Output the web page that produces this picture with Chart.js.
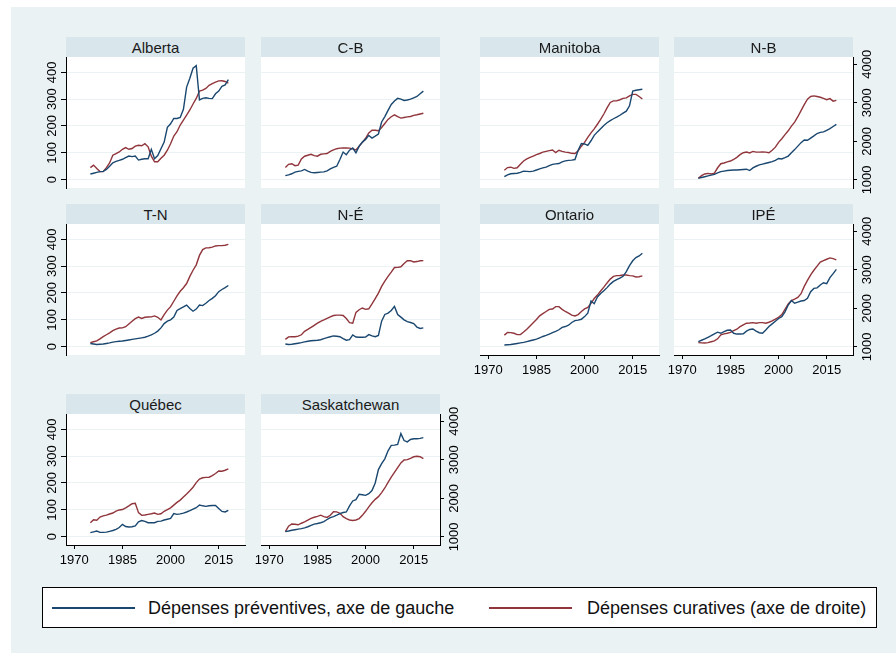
<!DOCTYPE html>
<html>
<head>
<meta charset="utf-8">
<script src="https://cdn.jsdelivr.net/npm/chart.js@4.4.1/dist/chart.umd.min.js"></script>
<style>
html,body{margin:0;padding:0;background:#fff;}
#root{position:relative;width:896px;height:653px;overflow:hidden;background:#fff;font-family:"Liberation Sans",Arial,Helvetica,sans-serif;}
#bg{position:absolute;left:11px;top:7px;right:0;bottom:0;background:#eaf2f3;}
.hdr{position:absolute;height:20px;line-height:21px;background:#d9e6eb;text-align:center;font-size:15px;font-weight:400;color:#1a1a1a;z-index:2;}
canvas{position:absolute;z-index:1;}
#legend{position:absolute;left:42px;top:587px;width:833px;height:39px;background:#fff;border:1px solid #000;z-index:2;}
.lline{position:absolute;top:19px;height:2px;}
.ltxt{position:absolute;top:0;line-height:40px;font-size:18px;font-weight:400;color:#111;white-space:nowrap;}
</style>
</head>
<body>
<div id="root"><div id="bg"></div>
<div id="legend">
  <div class="lline" style="left:9px;width:83px;background:#1a476f"></div>
  <div class="ltxt" id="lt1" style="left:105px"></div>
  <div class="lline" style="left:446px;width:83px;background:#90353b"></div>
  <div class="ltxt" id="lt2" style="left:544px"></div>
</div>
</div>
<script>
// ---------------- DATA ----------------
const years = [1975,1976,1977,1978,1979,1980,1981,1982,1983,1984,1985,1986,1987,1988,1989,1990,1991,1992,1993,1994,1995,1996,1997,1998,1999,2000,2001,2002,2003,2004,2005,2006,2007,2008,2009,2010,2011,2012,2013,2014,2015,2016,2017,2018];
const xTicks = [1970,1985,2000,2015];
const leftTicks = [0,100,200,300,400];
const rightTicks = [1000,2000,3000,4000];
const seriesNames = ['Dépenses préventives, axe de gauche','Dépenses curatives (axe de droite)'];
const provinces = ['Alberta','C-B','Manitoba','N-B','T-N','N-É','Ontario','IPÉ','Québec','Saskatchewan'];

const prevAlberta = [21,24,27,30,31,38,50,63,68,72,76,82,88,86,88,73,76,78,78,113,78,90,115,140,195,208,228,228,232,262,345,378,415,425,297,303,305,303,302,320,330,348,353,373];
const curAlberta  = [1320,1385,1295,1215,1215,1320,1440,1640,1685,1725,1795,1840,1795,1815,1875,1900,1885,1940,1860,1615,1470,1470,1560,1640,1770,1940,2140,2250,2425,2550,2680,2815,2970,3115,3305,3330,3375,3455,3500,3540,3570,3575,3555,3515];
const prevCB = [15,18,22,28,31,33,38,32,27,26,27,28,29,33,40,46,50,75,103,93,110,118,100,125,140,150,165,155,162,170,215,235,258,280,293,303,300,295,297,300,305,310,320,330];
const curCB  = [1320,1405,1420,1370,1385,1545,1615,1640,1665,1630,1615,1665,1675,1685,1740,1780,1810,1825,1830,1830,1825,1805,1780,1875,1975,2080,2220,2290,2290,2275,2360,2465,2570,2640,2690,2640,2605,2620,2635,2645,2675,2690,2710,2730];
const prevManitoba = [11,18,22,23,24,27,32,31,30,32,36,40,44,47,52,57,59,60,66,70,72,73,75,110,135,133,128,145,165,178,190,202,212,220,227,233,240,248,255,275,330,333,335,337];
const curManitoba  = [1250,1320,1330,1300,1315,1405,1490,1545,1585,1620,1655,1685,1720,1740,1760,1775,1710,1770,1740,1720,1710,1690,1685,1755,1875,1975,2105,2220,2325,2445,2570,2710,2870,3010,3050,3050,3080,3115,3130,3180,3220,3220,3165,3100];
const prevNB = [6,8,11,14,17,20,25,30,32,34,35,36,36,37,38,39,34,44,50,55,58,61,64,67,72,79,77,82,88,100,112,125,138,148,147,155,163,172,176,178,184,190,198,206];
const curNB  = [1040,1110,1155,1170,1155,1175,1315,1420,1440,1470,1490,1530,1585,1655,1705,1725,1700,1740,1720,1720,1725,1720,1705,1770,1850,1975,2070,2175,2275,2395,2500,2640,2800,2955,3095,3165,3180,3165,3145,3115,3080,3110,3045,3065];
const prevTN = [12,10,8,9,10,12,14,17,19,20,21,23,25,27,29,31,33,35,39,44,50,58,70,86,95,100,110,135,142,148,155,142,132,140,155,153,162,172,180,190,205,213,220,228];
const curTN  = [1110,1135,1155,1210,1265,1315,1365,1420,1460,1490,1495,1525,1595,1665,1735,1775,1740,1770,1775,1780,1805,1770,1700,1840,1955,2045,2185,2325,2445,2535,2645,2830,2990,3130,3375,3525,3570,3575,3590,3620,3630,3630,3640,3660];
const prevNE = [10,8,9,11,13,15,18,20,22,23,24,26,30,34,37,40,39,37,30,24,26,44,36,35,35,36,45,40,37,42,95,120,125,135,150,120,110,100,93,90,86,73,68,70];
const curNE  = [1195,1260,1265,1265,1280,1315,1405,1455,1505,1560,1615,1665,1700,1740,1780,1815,1825,1825,1815,1735,1630,1615,1895,1965,2010,1975,1990,2115,2255,2395,2570,2710,2830,2940,3060,3065,3080,3165,3235,3240,3205,3215,3235,3240];
const prevOntario = [6,7,8,10,12,14,16,19,22,25,28,33,38,42,47,52,57,63,72,75,80,90,97,99,102,112,125,170,160,185,198,208,220,233,243,250,255,262,280,302,320,332,338,348];
const curOntario  = [1305,1375,1370,1355,1320,1320,1385,1460,1545,1630,1710,1805,1865,1920,1975,1985,2045,2045,1975,1920,1875,1825,1805,1840,1920,1985,2025,2130,2255,2345,2450,2550,2660,2760,2830,2850,2855,2865,2865,2850,2845,2815,2820,2845];
const prevIPE = [19,24,29,35,41,48,54,50,56,61,62,50,47,47,48,58,64,66,58,52,50,62,75,85,95,105,112,130,155,172,162,166,170,172,180,205,217,219,230,238,235,257,272,288];
const curIPE  = [1110,1105,1100,1110,1135,1155,1210,1315,1340,1355,1375,1420,1460,1525,1570,1615,1620,1630,1615,1630,1630,1615,1640,1675,1720,1770,1840,1975,2115,2200,2240,2285,2380,2570,2725,2870,2990,3095,3200,3240,3275,3310,3290,3260];
const prevQuebec = [15,18,21,16,16,17,20,23,27,34,46,38,36,37,40,55,60,57,52,52,52,57,58,62,65,68,86,83,85,88,92,97,103,108,118,115,113,115,116,116,105,94,92,98];
const curQuebec  = [1365,1445,1435,1515,1545,1565,1595,1620,1670,1700,1710,1755,1805,1860,1875,1630,1560,1570,1585,1600,1620,1585,1600,1665,1710,1755,1825,1895,1955,2035,2115,2200,2290,2410,2500,2535,2545,2550,2590,2645,2710,2705,2730,2765];
const prevSask = [19,21,24,26,28,30,33,37,42,47,49,52,56,64,71,75,80,86,90,92,115,133,138,158,156,154,160,172,200,250,272,290,320,340,341,344,384,358,353,362,365,365,366,369];
const curSask  = [1135,1280,1335,1330,1315,1355,1390,1435,1480,1510,1535,1565,1525,1505,1560,1655,1650,1615,1525,1475,1440,1425,1440,1475,1560,1665,1780,1885,1975,2045,2150,2270,2415,2550,2675,2800,2920,2995,3005,3040,3080,3095,3080,3030];

const prevData = [prevAlberta,prevCB,prevManitoba,prevNB,prevTN,prevNE,prevOntario,prevIPE,prevQuebec,prevSask];
const curData  = [curAlberta,curCB,curManitoba,curNB,curTN,curNE,curOntario,curIPE,curQuebec,curSask];

// ---------------- LAYOUT ----------------
const grid = [ // row, col, left axis, right axis, bottom axis
  [0,0,true,false,false],[0,1,false,false,false],[0,2,false,false,false],[0,3,false,true,false],
  [1,0,true,false,false],[1,1,false,false,false],[1,2,false,false,true],[1,3,false,true,true],
  [2,0,true,false,true],[2,1,false,true,true]
];
const colLeft=[66,261,480,674], rowTop=[57,224,414], plotW=179, plotH=131;
const M=32, HB=20, BOT=30;
const BLUE='#1a476f', RED='#90353b';
const FONT={family:'"Liberation Sans", Arial, Helvetica, sans-serif', size:13};

document.getElementById('lt1').textContent = seriesNames[0];
document.getElementById('lt2').textContent = seriesNames[1];

const bgPlugin={id:'plotbg',beforeDraw(c){const a=c.chartArea,ctx=c.ctx;ctx.save();ctx.fillStyle='#fff';ctx.fillRect(a.left,a.top,a.right-a.left,a.bottom-a.top);ctx.restore();}};
const zeroPad = s => {s.paddingTop=0;s.paddingBottom=0;s.paddingLeft=0;s.paddingRight=0;};
const root=document.getElementById('root');

provinces.forEach((name,i)=>{
  const [r,c,hasL,hasR,hasB]=grid[i];
  const w=plotW+2*M, h=HB+plotH+BOT;
  const cv=document.createElement('canvas');
  cv.width=w; cv.height=h;
  cv.style.left=(colLeft[c]-M)+'px'; cv.style.top=(rowTop[r]-HB)+'px';
  cv.style.width=w+'px'; cv.style.height=h+'px';
  root.appendChild(cv);
  const hd=document.createElement('div');
  hd.className='hdr'; hd.textContent=name;
  hd.style.left=colLeft[c]+'px'; hd.style.top=(rowTop[r]-HB)+'px'; hd.style.width=plotW+'px';
  root.appendChild(hd);

  new Chart(cv,{
    type:'line',
    data:{datasets:[
      {label:seriesNames[0],data:years.map((y,k)=>({x:y,y:prevData[i][k]})),yAxisID:'y',borderColor:BLUE,borderWidth:1.4,pointRadius:0,tension:0,fill:false},
      {label:seriesNames[1],data:years.map((y,k)=>({x:y,y:curData[i][k]})),yAxisID:'y2',borderColor:RED,borderWidth:1.4,pointRadius:0,tension:0,fill:false}
    ]},
    options:{
      responsive:false,animation:false,events:[],devicePixelRatio:1,
      layout:{padding:{top:HB,left:0,right:0,bottom:0}},
      plugins:{legend:{display:false},tooltip:{enabled:false},title:{display:false}},
      scales:{
        x:{type:'linear',position:'bottom',min:1967.41,max:2023.19,
          afterBuildTicks:s=>{s.ticks=xTicks.map(v=>({value:v}));},
          afterFit:s=>{s.height=BOT;zeroPad(s);},
          ticks:{display:hasB,font:FONT,color:'#000',padding:4,minRotation:0,maxRotation:0,autoSkip:false,callback:v=>String(v)},
          grid:{display:hasB,drawOnChartArea:false,drawTicks:true,tickLength:4,tickColor:'#000',lineWidth:1},
          border:{display:hasB,color:'#000',width:1}},
        y:{type:'linear',position:'left',min:-31,max:457,
          afterBuildTicks:s=>{s.ticks=leftTicks.map(v=>({value:v}));},
          afterFit:s=>{s.width=M;zeroPad(s);},
          ticks:{display:hasL,font:FONT,color:'#000',padding:-2,minRotation:90,maxRotation:90,crossAlign:'center',autoSkip:false,callback:v=>String(v)},
          grid:{display:true,drawOnChartArea:true,drawTicks:hasL,tickLength:5,color:'#eaf2f3',tickColor:'#000',lineWidth:1},
          border:{display:hasL,color:'#000',width:1}},
        y2:{type:'linear',position:'right',min:790,max:4190,
          afterBuildTicks:s=>{s.ticks=rightTicks.map(v=>({value:v}));},
          afterFit:s=>{s.width=M;zeroPad(s);},
          ticks:{display:hasR,font:FONT,color:'#000',padding:-4,minRotation:90,maxRotation:90,crossAlign:'center',autoSkip:false,callback:v=>String(v)},
          grid:{display:hasR,drawOnChartArea:false,drawTicks:true,tickLength:4,tickColor:'#000',lineWidth:1},
          border:{display:hasR,color:'#000',width:1}}
      }
    },
    plugins:[bgPlugin]
  });
});
</script>
</body>
</html>
